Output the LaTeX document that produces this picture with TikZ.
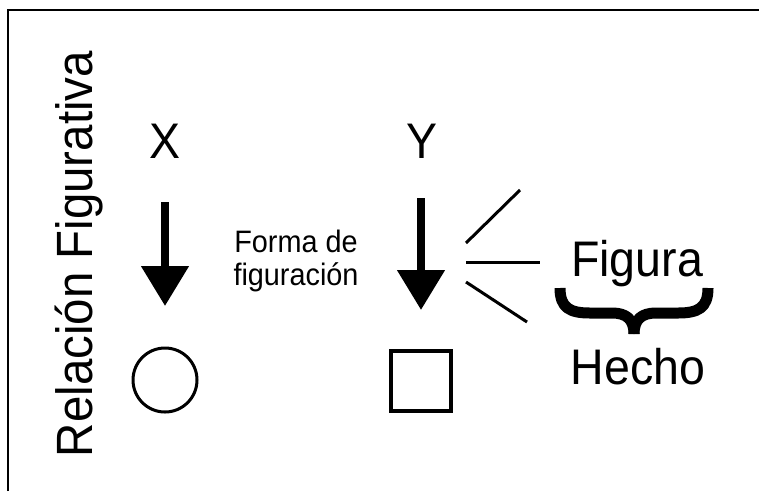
\documentclass[tikz,border=0pt]{standalone}
\usepackage{fontspec}
\setmainfont{Liberation Sans}
\newfontfamily\narrowfam{Liberation Sans}[FakeStretch=0.93]
\usetikzlibrary{arrows.meta}
\begin{document}
\begin{tikzpicture}[x=1pt,y=-1pt,
  bigtxt/.style={inner sep=0pt,font=\narrowfam\fontsize{50}{52}\selectfont},
  bigarrow/.style={line width=8pt,-{Triangle[width=46pt,length=40pt]}},
  ray/.style={line width=3pt},
  shapeline/.style={draw,line width=3pt}]
\useasboundingbox (0,0) rectangle (759,491);
\draw[line width=1.2pt] (8,491) -- (8,10) -- (759,10);
% title
\node[inner sep=0pt,rotate=90,anchor=base,font=\narrowfam\fontsize{51}{53}\selectfont] (title) at (92,254) {Relación Figurativa};
% X and Y
\node[bigtxt,anchor=base] (X) at (165,158) {X};
\node[bigtxt,anchor=base] (Y) at (422,158) {Y};
% shapes
\node[shapeline,circle,minimum size=64pt,inner sep=0pt] (circ) at (165,380) {};
\node[draw,line width=4pt,minimum size=60pt,inner sep=0pt] (sq) at (421,381) {};
% arrows
\coordinate (xa1) at (165,202);
\coordinate (xa2) at (165,306);
\coordinate (ya1) at (421,198);
\coordinate (ya2) at (421,310);
\draw[bigarrow] (xa1) -- (xa2);
\draw[bigarrow] (ya1) -- (ya2);
% middle label
\node[inner sep=0pt,align=center,font=\narrowfam\fontsize{31}{33}\selectfont] (forma) at (296,261) {Forma de\\figuración};
% rays
\coordinate (r1a) at (466,243); \coordinate (r1b) at (520,190);
\coordinate (r2a) at (466,262); \coordinate (r2b) at (540,262);
\coordinate (r3a) at (466,282); \coordinate (r3b) at (527,322);
\draw[ray] (r1a) -- (r1b);
\draw[ray] (r2a) -- (r2b);
\draw[ray] (r3a) -- (r3b);
% Figura / Hecho
\node[bigtxt,anchor=base] (fig) at (637,276) {Figura};
\node[bigtxt,anchor=base] (hecho) at (638,384) {Hecho};
% brace
\draw[line width=11pt,line join=round]
  (560,288) .. controls (560,308) and (570,313) .. (590,313) -- (612,313)
  .. controls (626,313) and (634,319) .. (634,334);
\draw[line width=11pt,line join=round]
  (708,288) .. controls (708,308) and (698,313) .. (678,313) -- (656,313)
  .. controls (642,313) and (634,319) .. (634,334);
\end{tikzpicture}
\end{document}
